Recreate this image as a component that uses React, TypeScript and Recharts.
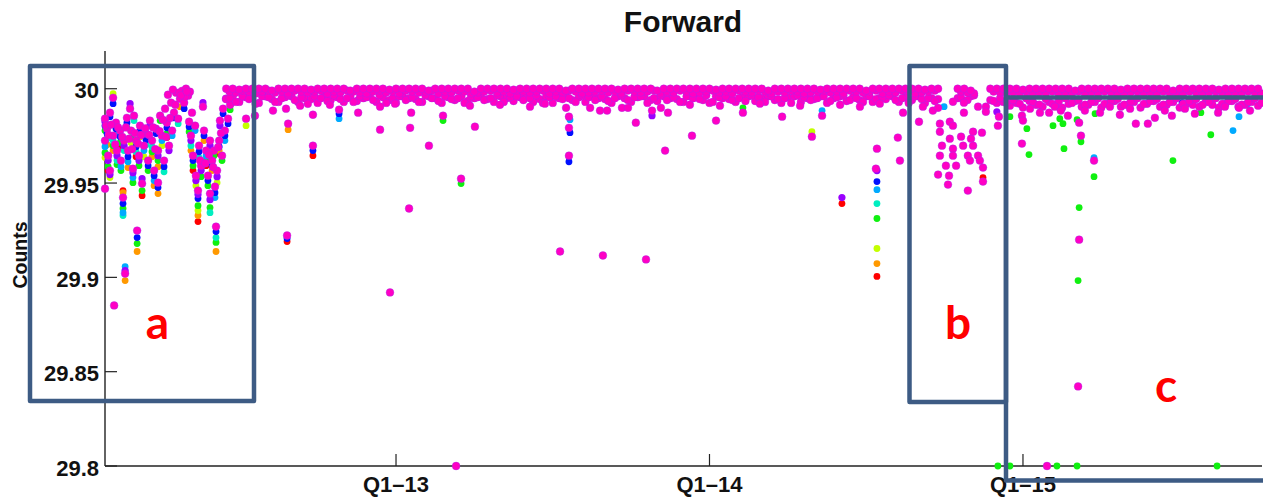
import React from 'react';
import { ScatterChart, Scatter, XAxis, YAxis } from 'recharts';

// ---- axes ----
const xDomain: [number, number] = [0.86, 45.15]; // months since Jan 2012
const xTickValues = [12, 24, 36];
const xTickLabels = ['Q1–13', 'Q1–14', 'Q1–15'];
const yDomain: [number, number] = [29.8, 30.02];
const yTickValues = [29.8, 29.85, 29.9, 29.95, 30];
const yTickLabels = ['29.8', '29.85', '29.9', '29.95', '30'];

type P = [number, number];

// ---- series (x = months since Jan 2012, y = counts) ----
const red: P[] = [
  [0.98, 29.9566], [1.44, 29.9688], [1.55, 29.946], [2.05, 29.964], [2.28, 29.9433], [3.23, 29.9741],
  [4.23, 29.9566], [4.42, 29.9296], [4.73, 29.9592], [5.23, 29.9656],
  [7.83, 29.919], [8.82, 29.9645], [29.07, 29.9391], [30.41, 29.9005], [34.47, 29.9529],
];
const orange: P[] = [
  [0.94, 29.9703], [1.17, 29.9672], [1.55, 29.9449], [1.63, 29.8983], [1.74, 29.9582], [2.09, 29.9137],
  [2.2, 29.9746], [2.66, 29.964], [2.74, 29.9486], [2.89, 29.9587], [2.89, 29.9444], [3.73, 29.9905],
  [4.15, 29.9672], [4.42, 29.9328], [4.65, 29.9725], [4.96, 29.9566], [5.11, 29.9137], [5.23, 29.9672],
  [7.87, 29.9783], [30.41, 29.9073],
];
const yellow: P[] = [
  [0.86, 29.9635], [1.05, 29.9529], [1.17, 29.9974], [1.86, 29.9714], [2.35, 29.964], [3.04, 29.9698],
  [4.34, 29.9486], [4.42, 29.9354], [4.88, 29.9672], [5.15, 29.9502],
  [6.26, 29.9804], [27.92, 29.9772], [30.41, 29.9153],
];
const green: P[] = [
  [0.86, 29.9778], [0.86, 29.9661], [0.98, 29.9587], [1.17, 29.9698], [1.32, 29.9598], [1.44, 29.9714],
  [1.47, 29.9566], [1.55, 29.9365], [1.7, 29.9793], [1.86, 29.9741], [1.93, 29.9502], [2.09, 29.9179],
  [2.16, 29.9592], [2.28, 29.946], [2.51, 29.9566], [2.66, 29.9666], [2.89, 29.9619], [2.97, 29.9831],
  [3.23, 29.9762], [4.08, 29.9772], [4.23, 29.9592], [4.42, 29.938], [4.54, 29.9534], [4.73, 29.9619],
  [4.8, 29.9486], [4.88, 29.937], [5.03, 29.9645], [5.11, 29.9185], [5.34, 29.9619], [5.65, 29.9889],
  [13.8, 29.9831], [14.49, 29.9497], [25.28, 29.9899], [30.41, 29.9312], [35.5, 29.9852], [36.15, 29.9788],
  [36.23, 29.9651], [37.15, 29.9804], [37.41, 29.9841], [37.53, 29.9815], [37.57, 29.9682], [38.07, 29.9836],
  [38.22, 29.9719], [38.72, 29.9534], [38.15, 29.937], [38.11, 29.8983], [38.76, 29.9868], [41.74, 29.9619],
  [42.81, 29.9873], [43.19, 29.9756], [35.04, 29.8], [35.5, 29.8], [37.3, 29.8], [38.07, 29.8], [43.43, 29.8],
];
const teal: P[] = [
  [0.94, 29.9735], [1.17, 29.9725], [1.32, 29.9619], [1.55, 29.9328], [1.59, 29.9672], [1.97, 29.9831],
  [2.05, 29.9666], [2.43, 29.9703], [2.66, 29.9693], [3.12, 29.956], [3.66, 29.9815], [4.15, 29.9698],
  [4.46, 29.9635], [4.88, 29.9343], [5.11, 29.9211], [30.41, 29.9391],
];
const lightBlue: P[] = [
  [0.86, 29.9693], [1.28, 29.9756], [1.47, 29.9587], [1.55, 29.9343], [1.63, 29.9057], [1.74, 29.9613],
  [1.93, 29.9529], [2.35, 29.9672], [2.74, 29.9513], [3.04, 29.9725], [3.43, 29.9751], [4.31, 29.9778],
  [4.73, 29.9645], [5.07, 29.9423], [5.45, 29.9725],
  [9.82, 29.9841], [18.66, 29.9836], [28.31, 29.9884], [30.41, 29.9465], [32.98, 29.9905], [38.72, 29.9635],
  [44.04, 29.9778], [44.27, 29.9852], [44.57, 29.9915],
];
const blue: P[] = [
  [0.86, 29.9804], [0.94, 29.9762], [1.05, 29.9852], [1.17, 29.9921], [1.28, 29.9788], [1.44, 29.9746],
  [1.55, 29.9391], [1.7, 29.982], [1.74, 29.964], [2.05, 29.9693], [2.09, 29.9211], [2.2, 29.9778],
  [2.43, 29.973], [2.51, 29.9592], [2.74, 29.9539], [2.81, 29.9762], [2.89, 29.9476], [3.12, 29.9587],
  [3.23, 29.9793], [3.5, 29.9846], [3.89, 29.9894], [4.08, 29.9799], [4.23, 29.9619], [4.42, 29.9418],
  [4.46, 29.9666], [4.65, 29.9751], [4.8, 29.9513], [4.96, 29.9592], [5.07, 29.9449], [5.11, 29.9243],
  [5.23, 29.9693], [5.38, 29.9868], [5.45, 29.9751], [5.57, 29.9815],
  [7.83, 29.9206], [8.82, 29.9672], [9.82, 29.9868], [18.66, 29.9767], [18.62, 29.9613], [30.41, 29.9508],
  [42.09, 29.9926],
];
const purple: P[] = [
  [0.86, 29.9825], [0.98, 29.9619], [1.05, 29.9545], [1.32, 29.9645], [1.63, 29.9036], [1.59, 29.9698],
  [1.82, 29.9921], [1.93, 29.9555], [2.16, 29.9619], [2.28, 29.9523], [2.58, 29.9804], [2.89, 29.9645],
  [3.31, 29.9672], [4.15, 29.9725], [4.34, 29.9513], [4.42, 29.9439], [4.54, 29.9566], [4.61, 29.9926],
  [4.88, 29.9698], [4.88, 29.9412], [5.15, 29.9534], [5.26, 29.9804],
  [21.8, 29.9857], [29.07, 29.9423], [30.41, 29.9566], [35.0, 29.9878],
];
// magenta, early-2012 cluster (region a)
const magentaEarly: P[] = [
  [0.86, 29.9841], [0.86, 29.9725], [0.86, 29.947], [0.94, 29.9788], [0.98, 29.9645], [1.05, 29.9873],
  [1.05, 29.9566], [1.17, 29.9952], [1.17, 29.9751], [1.21, 29.8851], [1.28, 29.982], [1.32, 29.9672],
  [1.44, 29.9778], [1.47, 29.9619], [1.55, 29.9423], [1.63, 29.902], [1.59, 29.9725], [1.7, 29.9846],
  [1.74, 29.9672], [1.82, 29.9894], [1.86, 29.9778], [1.93, 29.9576], [1.97, 29.9857], [2.05, 29.9725],
  [2.09, 29.9248], [2.16, 29.9645], [2.2, 29.9804], [2.28, 29.9497], [2.35, 29.9698], [2.43, 29.9762],
  [2.51, 29.9619], [2.58, 29.9831], [2.66, 29.9725], [2.74, 29.9566], [2.81, 29.9788], [2.89, 29.9672],
  [2.89, 29.9502], [2.97, 29.9857], [3.04, 29.9751], [3.12, 29.9619], [3.16, 29.9894], [3.23, 29.982],
  [3.31, 29.9698], [3.39, 29.9926], [3.43, 29.9778], [3.5, 29.9873], [3.58, 29.9979], [3.66, 29.9841],
  [3.73, 29.9947], [3.81, 29.9989], [3.89, 29.9926], [3.96, 30.0], [4.04, 29.9963], [4.11, 29.9984],
  [3.27, 29.9968], [3.46, 29.9995], [3.7, 29.9979], [3.92, 29.9958],
  [0.9, 29.9805], [1.0, 29.9755], [1.1, 29.981], [1.25, 29.9705], [1.36, 29.9795], [1.52, 29.9745],
  [1.66, 29.9795], [1.78, 29.9735], [1.9, 29.968], [2.0, 29.9765], [2.12, 29.971], [2.24, 29.9755],
  [2.4, 29.979], [2.55, 29.9755], [2.7, 29.9795], [2.78, 29.968], [2.95, 29.9775], [3.08, 29.9835],
  [3.2, 29.9745], [3.35, 29.9845], [3.55, 29.9915], [3.77, 29.9965], [3.99, 29.9985],
  [4.08, 29.9825], [4.15, 29.9751], [4.19, 29.9873], [4.23, 29.9645], [4.31, 29.9804], [4.34, 29.9539],
  [4.42, 29.946], [4.46, 29.9698], [4.54, 29.9592], [4.61, 29.9905], [4.65, 29.9778], [4.73, 29.9672],
  [4.8, 29.9539], [4.88, 29.9725], [4.88, 29.9444], [4.96, 29.9619], [5.03, 29.9672], [5.07, 29.9481],
  [5.11, 29.9269], [5.15, 29.9566], [5.23, 29.9725], [5.26, 29.9831], [5.34, 29.9645], [5.38, 29.9894],
  [5.45, 29.9778], [5.49, 29.9947], [5.57, 29.9841], [5.65, 29.9915],
  [4.5, 29.962], [4.7, 29.9605], [4.84, 29.965], [5.0, 29.9585], [5.19, 29.969], [5.3, 29.9765],
];

// magenta, main band: readings every 0.25 month from Jun 2012 (two readings per slot, offset half a slot)
const bandStart = 5.5;
const bandHalfStart = 5.625;
const bandStep = 0.25;
const bandTop: (number | null)[] = [
  30, 30, 29.9995, 30, 30, 30, 30, 29.999, 30, 30,
  30, 30, 30, 29.9995, 30, 30, 30, 30, 30, 29.999,
  30, 30, 30, 30, 30, 29.9995, 30, 30, 30, 30,
  30, 29.999, 30, 30, 30, 30, 30, 30, 29.9985, 30,
  30, 30, 30, 30, 29.9995, 30, 30, 30, 30, 30,
  30, 30, 29.999, 30, 30, 30, 30, 30, 30, 30,
  29.9995, 30, 30, 30, 30, 30, 29.999, 30, 30, 30,
  30, 30, 30, 30, 30, 29.9995, 30, 30, 30, 30,
  30, 30, 30, 29.999, 30, 30, 30, 30, 30, 30,
  30, 29.9995, 30, 30, 30, 30, 30, 30, 29.999, 30,
  30, 30, 30, 30, 30, 30, 30, 29.9995, 30, 30,
  null, null, 30, 30, 29.999, null, null, 30, 30, 30,
  30, 30, 29.9995, 30, 30, 30, 30, 30, 30, 30,
  29.999, 30, 30, 30, 30, 30, 30, 29.9995, 30, 30,
  30, 30, 30, 30, 30, 29.999, 30, 30, 30, 30,
  30, 30, 29.9995, 30, 30, 30, 30, 30, 30,
];
const bandLower: (number | null)[] = [
  29.9945, 29.996, 29.993, 29.9955, 29.995, 29.9925, 29.996, 29.9945, 29.993, 29.9955,
  29.996, 29.993, 29.995, 29.9945, 29.9925, 29.996, 29.994, 29.9955, 29.993, 29.996,
  29.9935, 29.995, 29.996, 29.993, 29.9955, 29.994, 29.9925, 29.996, 29.995, 29.9945,
  29.993, 29.996, 29.995, 29.9925, 29.9955, 29.994, 29.996, 29.9935, 29.995, 29.996,
  29.9945, 29.993, 29.996, 29.995, 29.9935, 29.9955, 29.996, 29.993, 29.9945, 29.996,
  29.9925, 29.995, 29.996, 29.994, 29.9955, 29.993, 29.996, 29.995, 29.9945, 29.9925,
  29.996, 29.995, 29.993, 29.9955, 29.996, 29.994, 29.9935, 29.996, 29.995, 29.9945,
  29.993, 29.996, 29.9955, 29.994, 29.9925, 29.996, 29.995, 29.9945, 29.993, 29.9955,
  29.996, 29.9935, 29.995, 29.996, 29.994, 29.9925, 29.9955, 29.996, 29.993, 29.995,
  29.9945, 29.996, 29.9925, 29.995, 29.996, 29.9935, 29.9955, 29.994, 29.996, 29.993,
  29.995, 29.9945, 29.996, 29.993, 29.9955, 29.994, 29.996, 29.9925, 29.995, 29.9945,
  null, null, 29.995, 29.9935, 29.996, null, null, 29.994, 29.9925, 29.993,
  29.991, 29.9925, 29.99, 29.9935, 29.9915, 29.9905, 29.993, 29.9915, 29.99, 29.992,
  29.9935, 29.9905, 29.9915, 29.993, 29.99, 29.992, 29.9935, 29.9905, 29.9915, 29.993,
  29.99, 29.992, 29.9935, 29.9905, 29.9915, 29.993, 29.99, 29.992, 29.9915, 29.9905,
  29.993, 29.9915, 29.99, 29.992, 29.9935, 29.9905, 29.9915, 29.993, 29.991,
];
const bandHalfUpper: (number | null)[] = [
  29.9985, 29.998, 29.999, 29.9985, 29.9975, 29.9985, 29.999, 29.998, 29.9985, 29.9975,
  29.999, 29.9985, 29.998, 29.9985, 29.999, 29.9975, 29.9985, 29.998, 29.999, 29.9985,
  29.998, 29.9975, 29.9985, 29.999, 29.998, 29.9985, 29.9975, 29.999, 29.9985, 29.998,
  29.9985, 29.999, 29.9975, 29.9985, 29.998, 29.999, 29.9985, 29.9975, 29.998, 29.9985,
  29.999, 29.998, 29.9985, 29.9975, 29.999, 29.9985, 29.998, 29.9985, 29.999, 29.9975,
  29.9985, 29.998, 29.999, 29.9985, 29.9975, 29.998, 29.9985, 29.999, 29.998, 29.9985,
  29.9975, 29.999, 29.9985, 29.998, 29.9985, 29.999, 29.9975, 29.9985, 29.998, 29.999,
  29.9985, 29.9975, 29.998, 29.9985, 29.999, 29.998, 29.9985, 29.9975, 29.999, 29.9985,
  29.998, 29.999, 29.9985, 29.9975, 29.9985, 29.998, 29.999, 29.9985, 29.9975, 29.998,
  29.9985, 29.999, 29.998, 29.9985, 29.9975, 29.999, 29.9985, 29.998, 29.9985, 29.999,
  29.9975, 29.9985, 29.998, 29.999, 29.9985, 29.9975, 29.998, 29.9985, 29.999, null,
  null, null, 29.9985, 29.998, 29.9975, null, null, 29.9985, 29.998, 29.9975,
  29.998, 29.9975, 29.9985, 29.997, 29.998, 29.9975, 29.9985, 29.997, 29.998, 29.9975,
  29.9985, 29.997, 29.998, 29.9975, 29.9985, 29.998, 29.997, 29.9975, 29.998, 29.9985,
  29.9975, 29.998, 29.997, 29.9985, 29.9975, 29.998, 29.997, 29.9985, 29.998, 29.9975,
  29.998, 29.9985, 29.9975, 29.997, 29.998, 29.9975, 29.9985, 29.998, 29.9975,
];
const bandHalfLower: (number | null)[] = [
  29.995, 29.993, 29.996, 29.9945, 29.992, 29.996, 29.9955, 29.993, 29.995, 29.9965,
  29.994, 29.9955, 29.992, 29.996, 29.995, 29.9935, 29.9965, 29.9945, 29.995, 29.993,
  29.996, 29.9955, 29.994, 29.9965, 29.9925, 29.995, 29.996, 29.994, 29.9955, 29.993,
  29.9965, 29.995, 29.9935, 29.996, 29.9945, 29.995, 29.9925, 29.996, 29.9955, 29.994,
  29.995, 29.9965, 29.993, 29.9955, 29.996, 29.994, 29.995, 29.9965, 29.9925, 29.9955,
  29.996, 29.9945, 29.995, 29.993, 29.9965, 29.9955, 29.994, 29.996, 29.9935, 29.995,
  29.9965, 29.994, 29.9955, 29.996, 29.9925, 29.995, 29.9965, 29.994, 29.9955, 29.993,
  29.996, 29.995, 29.9945, 29.9965, 29.993, 29.9955, 29.996, 29.994, 29.995, 29.9935,
  29.9965, 29.9955, 29.993, 29.996, 29.9945, 29.995, 29.9925, 29.9965, 29.9955, 29.994,
  29.995, 29.996, 29.9935, 29.9955, 29.9965, 29.994, 29.995, 29.993, 29.996, 29.9945,
  29.9955, 29.9965, 29.994, 29.995, 29.9925, 29.996, 29.9945, 29.995, 29.9935, null,
  null, null, 29.9955, 29.994, 29.9965, null, null, 29.9935, 29.995, 29.9925,
  29.994, 29.992, 29.995, 29.993, 29.9915, 29.9945, 29.992, 29.9935, 29.995, 29.9925,
  29.994, 29.9915, 29.993, 29.995, 29.992, 29.9935, 29.9945, 29.9915, 29.993, 29.995,
  29.992, 29.9935, 29.9945, 29.9915, 29.993, 29.995, 29.992, 29.9935, 29.9945, 29.9915,
  29.993, 29.995, 29.992, 29.9935, 29.9945, 29.9915, 29.993, 29.995, 29.9925,
];
// magenta outliers after the early cluster
const magentaLater: P[] = [
  [6.26, 29.9841], [6.6, 29.9857], [7.29, 29.9884], [7.79, 29.9894], [7.87, 29.9815], [7.83, 29.9222],
  [8.33, 29.991], [8.82, 29.9862], [8.82, 29.9698], [9.47, 29.9915], [9.82, 29.9889], [10.55, 29.9873],
  [11.39, 29.9783], [11.39, 29.9905], [11.77, 29.892], [11.96, 29.9921], [12.58, 29.9873], [12.54, 29.9793],
  [12.5, 29.9365], [13.26, 29.9698], [13.8, 29.9857], [14.3, 29.8], [14.49, 29.9523], [14.83, 29.991],
  [15.02, 29.9799], [15.98, 29.9915], [17.13, 29.9905], [17.7, 29.9921], [18.28, 29.9137], [18.51, 29.9899],
  [18.62, 29.9852], [18.62, 29.9793], [18.62, 29.9645], [19.43, 29.9899], [19.81, 29.9884], [19.92, 29.9116],
  [20.08, 29.9884], [20.65, 29.9899], [20.88, 29.9899], [21.18, 29.982], [21.57, 29.9095], [21.8, 29.9884],
  [22.14, 29.9899], [22.3, 29.9672], [22.41, 29.9873], [23.25, 29.9915], [23.33, 29.9751], [24.25, 29.9831],
  [24.4, 29.991], [25.28, 29.9873], [25.93, 29.9921], [26.78, 29.9852], [27.47, 29.991], [27.92, 29.9746],
  [28.31, 29.9857], [29.0, 29.9915], [29.76, 29.9905], [30.41, 29.9682], [30.37, 29.9576], [30.52, 29.9921],
  [31.21, 29.9741], [31.29, 29.9619], [31.41, 29.9873],
  // late-2014 scatter (region b)
  [32.02, 29.9825], [32.17, 29.9905], [32.55, 29.9884], [32.75, 29.9899], [32.82, 29.9815], [32.82, 29.9772],
  [32.82, 29.9645], [32.9, 29.9698], [32.75, 29.9545], [33.05, 29.9592], [33.13, 29.9492], [33.17, 29.9539],
  [33.2, 29.9825], [33.2, 29.9735], [33.32, 29.9931], [33.32, 29.9804], [33.32, 29.9682], [33.32, 29.9645],
  [33.44, 29.9592], [33.63, 29.9746], [33.71, 29.9698], [33.74, 29.9926], [33.74, 29.9873], [33.89, 29.9645],
  [33.89, 29.946], [33.97, 29.9619], [34.01, 29.9735], [34.09, 29.9772], [34.09, 29.9698], [34.28, 29.9905],
  [34.28, 29.9645], [34.35, 29.9619], [34.43, 29.9767], [34.47, 29.9582], [34.47, 29.9508], [34.58, 29.9905],
  [34.58, 29.9878], [35.04, 29.9804], [35.08, 29.9852],
  // 2015 (region c)
  [35.96, 29.9857], [36.0, 29.9831], [35.96, 29.9709], [36.27, 29.9894], [36.65, 29.9873], [37.0, 29.9873],
  [37.22, 29.9905], [37.45, 29.9884], [37.72, 29.9857], [38.15, 29.982], [38.22, 29.9751], [38.37, 29.9884],
  [38.72, 29.9619], [38.15, 29.92], [38.11, 29.8422], [36.92, 29.8], [38.95, 29.9873], [39.33, 29.9905],
  [39.71, 29.9862], [40.1, 29.9894], [40.32, 29.9815], [40.78, 29.9815], [41.05, 29.9846], [41.43, 29.9884],
  [41.7, 29.9857], [42.2, 29.9894], [42.58, 29.9868], [43.47, 29.9873], [43.73, 29.9905], [44.27, 29.9899],
  [44.69, 29.9884],
];

const toPts = (arr: P[]) => arr.map(([x, y]) => ({ x, y }));
const bandPts = (vals: (number | null)[], start: number) =>
  vals.flatMap((y, i) => (y == null ? [] : [{ x: start + i * bandStep, y }]));

const magentaAll = [
  ...toPts(magentaEarly),
  ...bandPts(bandLower, bandStart),
  ...bandPts(bandHalfLower, bandHalfStart),
  ...bandPts(bandHalfUpper, bandHalfStart),
  ...bandPts(bandTop, bandStart),
  ...toPts(magentaLater),
];

const seriesList = [
  { name: 'red', color: '#ff0000', data: toPts(red), r: 3.4 },
  { name: 'orange', color: '#ff9900', data: toPts(orange), r: 3.4 },
  { name: 'yellow', color: '#c4ff00', data: toPts(yellow), r: 3.4 },
  { name: 'green', color: '#10f010', data: toPts(green), r: 3.4 },
  { name: 'teal', color: '#00eec0', data: toPts(teal), r: 3.4 },
  { name: 'lightBlue', color: '#00aaff', data: toPts(lightBlue), r: 3.4 },
  { name: 'blue', color: '#0010ff', data: toPts(blue), r: 3.4 },
  { name: 'purple', color: '#9a00ff', data: toPts(purple), r: 3.6 },
  { name: 'magenta', color: '#ff00c4', data: magentaAll, r: 3.9 },
];

const FONT = '"Liberation Sans", Arial, Helvetica, sans-serif';
const AXIS = '#222';

const makeDot = (color: string, r: number, outline?: string) => (props: any) => {
  const { cx, cy } = props;
  if (cx == null || cy == null || isNaN(cx) || isNaN(cy)) return <g />;
  return (
    <circle
      cx={cx}
      cy={cy}
      r={r}
      fill={color}
      stroke={outline || 'none'}
      strokeWidth={outline ? 0.7 : 0}
      strokeOpacity={0.55}
    />
  );
};

const BottomTick = (props: any) => {
  const { x, y, payload } = props;
  const idx = xTickValues.indexOf(payload.value);
  return (
    <g>
      <line x1={x} y1={y} x2={x} y2={y - 12} stroke={AXIS} strokeWidth={1.2} />
      <text x={x} y={y + 26} textAnchor="middle" fontFamily={FONT} fontWeight="bold" fontSize={22} fill="#111">
        {idx >= 0 ? xTickLabels[idx] : ''}
      </text>
    </g>
  );
};
const TopTick = (props: any) => {
  const { x, y } = props;
  return <line x1={x} y1={y} x2={x} y2={y + 12} stroke={AXIS} strokeWidth={1.2} />;
};
const LeftTick = (props: any) => {
  const { x, y, payload } = props;
  const idx = yTickValues.findIndex((v) => Math.abs(v - payload.value) < 1e-9);
  return (
    <g>
      <line x1={x} y1={y} x2={x + 12} y2={y} stroke={AXIS} strokeWidth={1.2} />
      <text x={x - 6} y={y + 9.7} textAnchor="end" fontFamily={FONT} fontWeight="bold" fontSize={22} fill="#111">
        {idx >= 0 ? yTickLabels[idx] : ''}
      </text>
    </g>
  );
};
const RightTick = (props: any) => {
  const { x, y } = props;
  return <line x1={x} y1={y} x2={x - 10} y2={y} stroke={AXIS} strokeWidth={1.2} />;
};

const BOX = '#3d5b84';

export default function App() {
  return (
    <div style={{ position: 'absolute', left: 0, top: 0, width: 1263, height: 497, background: '#fff', overflow: 'hidden' }}>
      <ScatterChart width={1263} height={497} margin={{ top: 51, right: 1, bottom: 0, left: 0 }}>
        <XAxis
          xAxisId={0}
          type="number"
          dataKey="x"
          domain={xDomain}
          ticks={xTickValues}
          interval={0}
          height={31}
          tickLine={false}
          tickSize={0}
          tickMargin={0}
          axisLine={{ stroke: AXIS, strokeWidth: 1.4 }}
          tick={(p: any) => <BottomTick {...p} />}
        />
        <XAxis
          xAxisId="top"
          orientation="top"
          type="number"
          domain={xDomain}
          ticks={xTickValues}
          interval={0}
          height={0}
          tickLine={false}
          tickSize={0}
          tickMargin={0}
          axisLine={{ stroke: AXIS, strokeWidth: 1.4 }}
          tick={(p: any) => <TopTick {...p} />}
        />
        <YAxis
          yAxisId={0}
          type="number"
          dataKey="y"
          domain={yDomain}
          ticks={yTickValues}
          interval={0}
          width={105}
          tickLine={false}
          tickSize={0}
          tickMargin={0}
          axisLine={{ stroke: AXIS, strokeWidth: 1.4 }}
          tick={(p: any) => <LeftTick {...p} />}
        />
        <YAxis
          yAxisId="right"
          orientation="right"
          type="number"
          domain={yDomain}
          ticks={yTickValues}
          interval={0}
          width={0}
          tickLine={false}
          tickSize={0}
          tickMargin={0}
          axisLine={{ stroke: AXIS, strokeWidth: 1.4 }}
          tick={(p: any) => <RightTick {...p} />}
        />
        {seriesList.map((s) => (
          <Scatter
            key={s.name}
            name={s.name}
            data={s.data}
            xAxisId={0}
            yAxisId={0}
            fill={s.color}
            isAnimationActive={false}
            shape={makeDot(s.color, s.r, s.name === 'magenta' ? '#9a30f0' : undefined)}
          />
        ))}
      </ScatterChart>
      <svg width={1263} height={497} style={{ position: 'absolute', left: 0, top: 0, pointerEvents: 'none' }}>
        <text x={683} y={32} textAnchor="middle" fontFamily={FONT} fontWeight="bold" fontSize={30} fill="#111">
          Forward
        </text>
        <text
          x={26.5}
          y={255}
          transform="rotate(-90 26.5 255)"
          textAnchor="middle"
          fontFamily={FONT}
          fontWeight="bold"
          fontSize={19.5}
          fill="#111"
        >
          Counts
        </text>
        <rect x={30} y={66} width={224} height={335} fill="none" stroke={BOX} strokeWidth={4.5} strokeLinejoin="round" />
        <rect x={909.5} y={66} width={96.5} height={336} fill="none" stroke={BOX} strokeWidth={4.5} strokeLinejoin="round" />
        <path d="M1266 97.5 L1006 97.5 L1006 480.5 L1266 480.5" fill="none" stroke={BOX} strokeWidth={4.5} strokeLinejoin="round" />
        <text x={157.5} y={339} textAnchor="middle" fontFamily="Lato, 'Open Sans', sans-serif" fontWeight="bold" fontSize={46} fill="#ff0000">
          a
        </text>
        <text x={958} y={339} textAnchor="middle" fontFamily="Lato, 'Open Sans', sans-serif" fontWeight="bold" fontSize={46} fill="#ff0000">
          b
        </text>
        <text x={1166} y={402} textAnchor="middle" fontFamily="Lato, 'Open Sans', sans-serif" fontWeight="bold" fontSize={46} fill="#ff0000">
          c
        </text>
      </svg>
    </div>
  );
}
